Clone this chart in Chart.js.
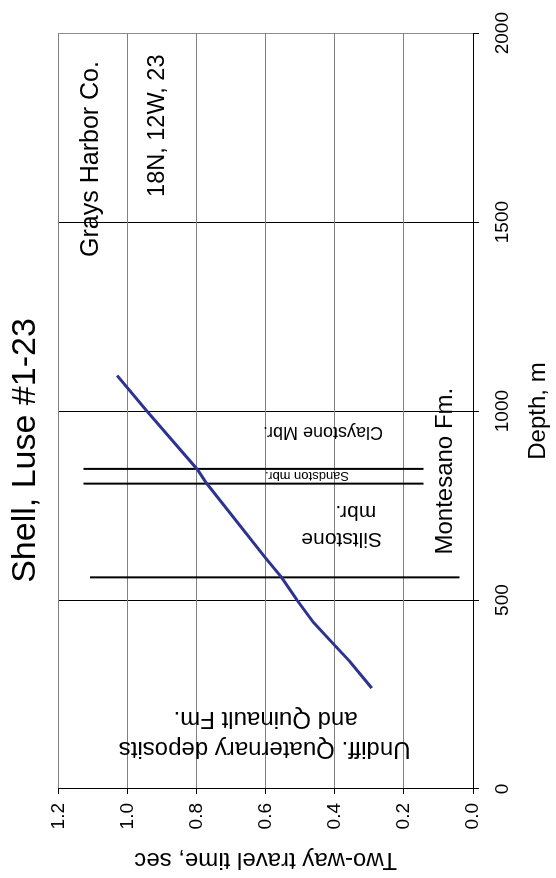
<!DOCTYPE html>
<html lang="en">

<head>
    <meta charset="UTF-8">
    <title>Shell, Luse #1-23</title>
    <style>
        body {
            margin: 0;
            background: #fff;
        }

        #page {
            position: relative;
            width: 556px;
            height: 878px;
            overflow: hidden;
        }

        /* the chart is drawn landscape and turned a quarter left */
        #turn {
            position: absolute;
            left: 0;
            top: 0;
            width: 878px;
            height: 556px;
            transform-origin: 0 0;
            transform: translateY(878px) rotate(-90deg);
        }
    </style>
</head>

<body>
    <div id="page">
        <div id="turn">
            <canvas id="chart" width="878" height="556"></canvas>
        </div>
    </div>

    <script src="https://cdn.jsdelivr.net/npm/chart.js@4"></script>
    <script>
        // velocity check shot: depth (m) vs two-way time (s)
        const depth = [267, 337, 380, 441, 502, 560, 611, 809, 846, 1000, 1094];
        const twt = [0.293, 0.356, 0.400, 0.462, 0.511, 0.554, 0.600, 0.771, 0.798, 0.944, 1.030];

        // formation boundaries (vertical lines)
        const boundaryDepth = [560, 808, 847];
        const boundaryTop = [1.108, 1.127, 1.127];
        const boundaryBottom = [0.039, 0.143, 0.143];

        const depthTicks = [0, 500, 1000, 1500, 2000];
        const twtTicks = [0, 0.2, 0.4, 0.6, 0.8, 1.0, 1.2];

        const FONT = "'Liberation Sans', Arial, Helvetica, sans-serif";

        // text notes placed in data units; rot -90 = written bottom to top
        const notes = [
            { text: "Grays Harbor Co.", depth: 1667, twt: 1.105, size: 25, rot: 0 },
            { text: "18N, 12W, 23", depth: 1755, twt: 0.912, size: 23.5, rot: 0 },
            { text: "Montesano Fm.", depth: 841, twt: 0.081, size: 24, rot: 0 },
            { text: "Claystone Mbr.", depth: 946, twt: 0.434, size: 18, rot: -90 },
            { text: "Sandston mbr.", depth: 828, twt: 0.480, size: 13, rot: -90 },
            { text: "Siltstone", depth: 663, twt: 0.380, size: 21, rot: -90 },
            { text: "mbr.", depth: 734, twt: 0.339, size: 21, rot: -90 },
            { text: "Undiff. Quaternary deposits", depth: 107, twt: 0.603, size: 24, rot: -90 },
            { text: "and Quinault Fm.", depth: 187, twt: 0.600, size: 24, rot: -90 }
        ];

        const notesPlugin = {
            id: "notes",
            afterDatasetsDraw(chart) {
                const { ctx, scales } = chart;
                ctx.save();
                ctx.fillStyle = "#000";
                ctx.textAlign = "center";
                ctx.textBaseline = "middle";
                for (const n of notes) {
                    const x = scales.x.getPixelForValue(n.depth);
                    const y = scales.y.getPixelForValue(n.twt);
                    ctx.save();
                    ctx.translate(x, y);
                    ctx.rotate(n.rot * Math.PI / 180);
                    ctx.font = n.size + "px " + FONT;
                    ctx.fillText(n.text, 0, 0);
                    ctx.restore();
                }
                ctx.restore();
            }
        };

        const datasets = [{
            data: depth.map((d, i) => ({ x: d, y: twt[i] })),
            showLine: true,
            borderColor: "#2e3393",
            borderWidth: 3,
            pointRadius: 0,
            tension: 0
        }];
        boundaryDepth.forEach((d, i) => {
            datasets.push({
                data: [{ x: d, y: boundaryTop[i] }, { x: d, y: boundaryBottom[i] }],
                showLine: true,
                borderColor: "#000",
                borderWidth: 2,
                pointRadius: 0
            });
        });

        new Chart(document.getElementById("chart"), {
            type: "scatter",
            data: { datasets },
            plugins: [notesPlugin],
            options: {
                responsive: false,
                animation: false,
                layout: { padding: { left: 0, right: 23, top: 0, bottom: 0 } },
                plugins: {
                    legend: { display: false },
                    tooltip: { enabled: false },
                    title: {
                        display: true,
                        text: "Shell, Luse #1-23",
                        color: "#000",
                        font: { family: FONT, size: 34, weight: "normal" },
                        padding: { top: 5, bottom: 12.5 }
                    }
                },
                scales: {
                    x: {
                        type: "linear",
                        min: 0,
                        max: 2000,
                        afterBuildTicks: s => { s.ticks = depthTicks.map(v => ({ value: v })); },
                        afterFit: s => { s.height = 83; },
                        ticks: {
                            color: "#000",
                            padding: 12,
                            font: { family: FONT, size: 19 },
                            callback: v => String(v)
                        },
                        grid: {
                            color: c => (c.tick && c.tick.value === 2000 ? "#8c8c8c" : "#000"),
                            tickColor: "#000",
                            tickLength: 6,
                            lineWidth: 1
                        },
                        border: { color: "#000", width: 1 },
                        title: {
                            display: true,
                            text: "Depth, m",
                            color: "#000",
                            font: { family: FONT, size: 24 },
                            padding: { top: 0, bottom: 3 }
                        }
                    },
                    y: {
                        type: "linear",
                        min: 0,
                        max: 1.2,
                        afterBuildTicks: s => { s.ticks = twtTicks.map(v => ({ value: v })); },
                        afterFit: s => { s.width = 89; },
                        ticks: {
                            color: "#000",
                            padding: 9,
                            font: { family: FONT, size: 19 },
                            callback: v => Number(v).toFixed(1)
                        },
                        grid: {
                            color: "#808080",
                            tickColor: "#000",
                            tickLength: 5,
                            lineWidth: 1
                        },
                        border: { color: "#000", width: 1 },
                        title: {
                            display: true,
                            text: "Two-way travel time, sec",
                            color: "#000",
                            font: { family: FONT, size: 24 },
                            padding: { top: 4, bottom: 0 }
                        }
                    }
                }
            }
        });
    </script>
</body>

</html>
